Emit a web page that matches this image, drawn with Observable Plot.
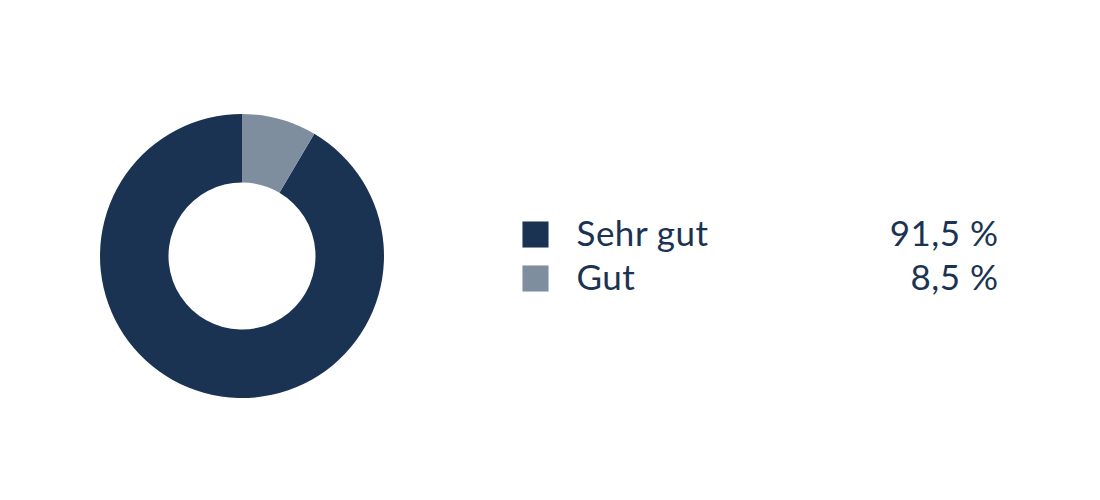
<!DOCTYPE html>
<html>
<head>
<meta charset="utf-8">
<script src="https://cdn.jsdelivr.net/npm/d3@7"></script>
<script src="https://cdn.jsdelivr.net/npm/@observablehq/plot@0.6"></script>
<style>
  html, body { margin: 0; padding: 0; background: #fff; }
  #chart { width: 1100px; height: 500px; }
  #chart svg text { letter-spacing: 0.5px; }
</style>
</head>
<body>
<div id="chart"></div>
<script>
const categories = ["Sehr gut", "Gut"];
const shares = [91.5, 8.5];
const valueLabels = ["91,5 %", "8,5 %"];
const colors = ["#1b3352", "#7f8e9f"];

const data = categories.map((c, i) => ({category: c, share: shares[i], label: valueLabels[i]}));

const donut = (index, scales) => {
  const g = d3.create("svg:g");
  const pie = d3.pie().value(d => d.share).sort((a, b) => a.share - b.share);
  const arc = d3.arc().innerRadius(73.5).outerRadius(142);
  g.attr("transform", "translate(242,256)")
    .selectAll("path")
    .data(pie(data))
    .join("path")
    .attr("d", arc)
    .attr("fill", d => scales.color(d.data.category));
  return g.node();
};

const chart = Plot.plot({
  width: 1100,
  height: 500,
  margin: 0,
  style: {fontFamily: "Lato, 'Open Sans', sans-serif", color: "#1b3352", background: "#fff"},
  x: {type: "identity", axis: null},
  y: {type: "point", domain: categories, range: [233.5, 278.2], padding: 0, axis: null},
  color: {domain: categories, range: colors},
  marks: [
    donut,
    Plot.dot(data, {x: () => 535, y: "category", symbol: "square", r: 14.7, fill: "category", stroke: null}),
    Plot.text(data, {x: () => 576, y: "category", text: "category", textAnchor: "start", lineAnchor: "middle", fontSize: 35, fontWeight: 400, fill: "#1b3352"}),
    Plot.text(data, {x: () => 998, y: "category", text: "label", textAnchor: "end", lineAnchor: "middle", fontSize: 35, fontWeight: 400, fill: "#1b3352"})
  ]
});
document.getElementById("chart").appendChild(chart);
</script>
</body>
</html>
